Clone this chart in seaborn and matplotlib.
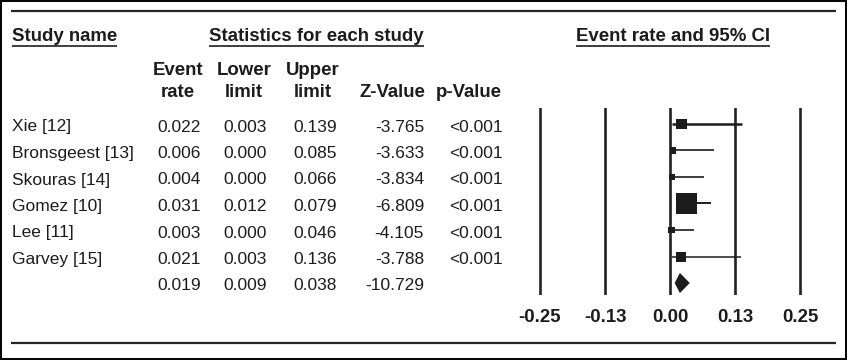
import matplotlib
matplotlib.use("Agg")
import matplotlib.pyplot as plt
import seaborn as sns
from matplotlib.patches import Rectangle

# data
studies = ["Xie [12]", "Bronsgeest [13]", "Skouras [14]", "Gomez [10]", "Lee [11]", "Garvey [15]"]
event_rate = [0.022, 0.006, 0.004, 0.031, 0.003, 0.021]
lower_limit = [0.003, 0.000, 0.000, 0.012, 0.000, 0.003]
upper_limit = [0.139, 0.085, 0.066, 0.079, 0.046, 0.136]
z_value = [-3.765, -3.633, -3.834, -6.809, -4.105, -3.788]
p_value = ["<0.001", "<0.001", "<0.001", "<0.001", "<0.001", "<0.001"]

pooled_rate = 0.019
pooled_lower = 0.009
pooled_upper = 0.038
pooled_z = -10.729

axis_ticks = [-0.25, -0.125, 0.0, 0.125, 0.25]
axis_labels = ["-0.25", "-0.13", "0.00", "0.13", "0.25"]

# style: box side (pt) and CI line width for each study
box_side = [7.4, 4.4, 4.4, 15.0, 5.0, 7.2]
ci_width = [1.8, 1.2, 1.2, 1.4, 1.2, 1.1]

sns.set_theme(style="white")
plt.rcParams["font.family"] = ["Liberation Sans", "DejaVu Sans"]

INK = "#1c1c1c"
W, H = 847, 360
fig = plt.figure(figsize=(W / 100, H / 100), dpi=100)
fig.patch.set_facecolor("white")

# background axes in pixel coordinates for the table part
bg = fig.add_axes([0, 0, 1, 1])
bg.set_xlim(0, W)
bg.set_ylim(H, 0)
bg.axis("off")

bg.add_patch(Rectangle((0.7, 0.7), W - 1.4, H - 1.4, fill=False, lw=1.4, ec="black"))
bg.hlines([11, 342.5], 11, 836, color="#262626", lw=1.6)

row0, step = 124, 26.5
rows_px = [row0 + step * i for i in range(len(studies) + 1)]

bold = dict(fontsize=13.4, fontweight="bold", color=INK, va="baseline")
reg = dict(fontsize=12.5, color=INK, va="baseline")

headers = [
    bg.text(12, 41, "Study name", ha="left", **bold),
    bg.text(316.5, 41, "Statistics for each study", ha="center", **bold),
    bg.text(673, 41, "Event rate and 95% CI", ha="center", **bold),
]

col_center = [178, 244, 313, 392, 469]
col_right = [201, 267, 337, 424, 503]
bg.text(col_center[0], 75, "Event", ha="center", **bold)
bg.text(col_center[0], 97, "rate", ha="center", **bold)
bg.text(col_center[1], 75, "Lower", ha="center", **bold)
bg.text(col_center[1], 97, "limit", ha="center", **bold)
bg.text(col_center[2], 75, "Upper", ha="center", **bold)
bg.text(col_center[2], 97, "limit", ha="center", **bold)
bg.text(col_center[3], 97, "Z-Value", ha="center", **bold)
bg.text(col_center[4], 97, "p-Value", ha="center", **bold)

for i, name in enumerate(studies):
    y = rows_px[i] + 7.5
    bg.text(12, y, name, ha="left", **reg)
    vals = [f"{event_rate[i]:.3f}", f"{lower_limit[i]:.3f}", f"{upper_limit[i]:.3f}",
            f"{z_value[i]:.3f}", p_value[i]]
    for x, v in zip(col_right, vals):
        bg.text(x, y, v, ha="right", **reg)

y = rows_px[-1] + 7.5
for x, v in zip(col_right, [pooled_rate, pooled_lower, pooled_upper, pooled_z]):
    bg.text(x, y, f"{v:.3f}", ha="right", **reg)

# forest plot axes: 0 at x=670 px, 520 px per unit
fx0, fx1, fy_top, fy_bot = 520, 820, 108, 295
ax = fig.add_axes([fx0 / W, 1 - fy_bot / H, (fx1 - fx0) / W, (fy_bot - fy_top) / H])
ax.set_facecolor("none")
for s in ax.spines.values():
    s.set_visible(False)
ax.set_yticks([])
ax.set_xticks(axis_ticks)
ax.set_xticklabels(axis_labels, fontsize=13.4, fontweight="bold", color=INK)
ax.tick_params(axis="x", length=0, pad=10)

for t in axis_ticks:
    ax.axvline(t, color="#222222", lw=1.9, zorder=1)

rows = list(range(len(studies)))
ax.hlines(rows, lower_limit, upper_limit, colors=INK, linewidths=ci_width, zorder=2)
sns.scatterplot(x=event_rate, y=rows, marker="s", s=[b ** 2 for b in box_side],
                color=INK, linewidth=0, ax=ax, zorder=3, legend=False)

d_row = len(studies)
half = 0.38
ax.fill([pooled_lower, pooled_rate, pooled_upper, pooled_rate],
        [d_row, d_row - half, d_row, d_row + half], color=INK, lw=0, zorder=3)
ax.set_xlim((fx0 - 670) / 520, (fx1 - 670) / 520)
ax.set_ylim(len(studies) + (fy_bot - rows_px[-1]) / step, -(rows_px[0] - fy_top) / step)

# underline the section headers
fig.canvas.draw()
inv = bg.transData.inverted()
for t in headers:
    bb = t.get_window_extent()
    (x0, _), (x1, _) = inv.transform([(bb.x0, bb.y0), (bb.x1, bb.y0)])
    bg.hlines(46, x0, x1, color=INK, lw=1.2)

fig.savefig("out.png", dpi=100)
plt.close(fig)
